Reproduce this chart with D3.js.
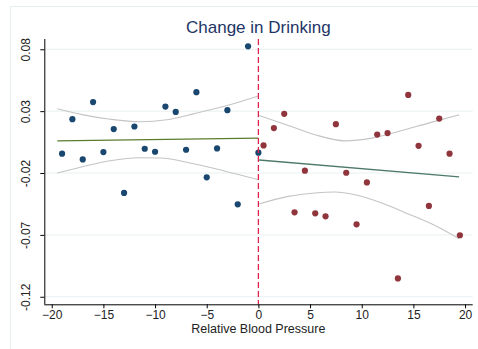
<!DOCTYPE html>
<html><head><meta charset="utf-8">
<script src="https://cdn.jsdelivr.net/npm/d3@7"></script>
<style>body{margin:0;background:#fff}svg{display:block;font-family:"Liberation Sans",Arial,sans-serif}</style>
</head><body><svg id="c" width="478" height="349"></svg>
<script>
const leftX = [-19,-18,-17,-16,-15,-14,-13,-12,-11,-10,-9,-8,-7,-6,-5,-4,-3,-2,-1,0];
const leftY = [-0.0044,0.0235,-0.009,0.0373,-0.0031,0.0155,-0.0361,0.0176,-0.0004,-0.0028,0.0337,0.0294,-0.0012,0.0453,-0.0235,-0.0001,0.0308,-0.0453,0.0824,-0.0036];
const rightX = [0.5,1.5,2.5,3.5,4.5,5.5,6.5,7.5,8.5,9.5,10.5,11.5,12.5,13.5,14.5,15.5,16.5,17.5,18.5,19.5];
const rightY = [0.0023,0.0163,0.0278,-0.0518,-0.0181,-0.0526,-0.055,0.0195,-0.0198,-0.0615,-0.0276,0.0111,0.0123,-0.1052,0.0431,0.002,-0.0466,0.024,-0.0044,-0.0703];
const leftFitX = [-19.46,0];
const leftFitY = [0.006,0.0082];
const rightFitX = [0.07,19.43];
const rightFitY = [-0.0095,-0.0232];
const leftUpX = [-19.46,-16.94,-14.36,-11.45,-8.87,-6.29,-3.39,0];
const leftUpY = [0.0319,0.027,0.0235,0.0214,0.023,0.0278,0.0337,0.0423];
const leftLoX = [-19.46,-16.94,-14.36,-11.45,-9.51,-6.29,-3.39,0];
const leftLoY = [-0.02,-0.0147,-0.0101,-0.0077,-0.0079,-0.0125,-0.0181,-0.0254];
const rightUpX = [0.07,2.9,5.49,8.39,10.98,13.55,16.46,19.43];
const rightUpY = [0.0265,0.0184,0.0109,0.006,0.0082,0.0135,0.0203,0.027];
const rightLoX = [0.07,2.9,5.49,7.42,9.36,11.95,14.52,17.1,19.43];
const rightLoY = [-0.045,-0.0389,-0.0361,-0.0353,-0.0375,-0.0442,-0.0531,-0.0625,-0.0732];
const xTicks = [-20,-15,-10,-5,0,5,10,15,20];
const yTicks = [0.08,0.03,-0.02,-0.07,-0.12];
const yTickLabels = ["0.08","0.03","-0.02","-0.07","-0.12"];

const svg = d3.select("#c");
const x = d3.scaleLinear().domain([-20.72,20.74]).range([44.3,472.7]);
const y = d3.scaleLinear().domain([-0.1261,0.0883]).range([304.3,39]);

svg.append("rect").attr("x",10.5).attr("y",6.5).attr("width",500).attr("height",400)
  .attr("fill","none").attr("stroke","#e6eef0");

// gridlines
svg.append("g").selectAll("line").data(yTicks).join("line")
  .attr("x1",44.3).attr("x2",472.7).attr("y1",d=>y(d)).attr("y2",d=>y(d))
  .attr("stroke","#e8f0f2").attr("stroke-width",1);

const zip = (a,b)=>a.map((v,i)=>[v,b[i]]);
const line = d3.line().x(d=>x(d[0])).y(d=>y(d[1])).curve(d3.curveMonotoneX);
const lin = d3.line().x(d=>x(d[0])).y(d=>y(d[1]));

[[leftUpX,leftUpY],[leftLoX,leftLoY],[rightUpX,rightUpY],[rightLoX,rightLoY]].forEach(([a,b])=>{
  svg.append("path").attr("d",line(zip(a,b))).attr("fill","none").attr("stroke","#c4c4c4").attr("stroke-width",1.1);
});
svg.append("path").attr("d",lin(zip(leftFitX,leftFitY))).attr("fill","none").attr("stroke","#5a7d2c").attr("stroke-width",1.3);
svg.append("path").attr("d",lin(zip(rightFitX,rightFitY))).attr("fill","none").attr("stroke","#4d7a68").attr("stroke-width",1.3);

svg.append("g").selectAll("circle").data(zip(leftX,leftY)).join("circle")
  .attr("cx",d=>x(d[0])).attr("cy",d=>y(d[1])).attr("r",3.1).attr("fill","#1a476f");
svg.append("g").selectAll("circle").data(zip(rightX,rightY)).join("circle")
  .attr("cx",d=>x(d[0])).attr("cy",d=>y(d[1])).attr("r",3.1).attr("fill","#90353b");

// cutoff
svg.append("line").attr("x1",x(0)).attr("x2",x(0)).attr("y1",39).attr("y2",304)
  .attr("stroke","#e0224e").attr("stroke-width",1.3).attr("stroke-dasharray","6,3");

// axes
const xa = svg.append("g").attr("transform","translate(0,304.3)")
  .call(d3.axisBottom(x).tickValues(xTicks).tickSize(4).tickPadding(2).tickFormat(d3.format("d")));
xa.select(".domain").attr("d","M44.3,0.5H472.7").attr("stroke","#000");
xa.selectAll("text").attr("font-size",12).attr("fill","#222").attr("font-family","Liberation Sans, Arial, sans-serif");
const ya = svg.append("g").attr("transform","translate(44.3,0)")
  .call(d3.axisLeft(y).tickValues(yTicks).tickSize(4).tickFormat((d,i)=>yTickLabels[i]));
ya.select(".domain").attr("d","M0.5,39V304.3").attr("stroke","#000");
ya.selectAll("text").attr("font-size",12).attr("fill","#222").attr("font-family","Liberation Sans, Arial, sans-serif")
  .attr("text-anchor","middle").attr("x",0).attr("dy",0)
  .attr("transform","translate(-14,0) rotate(-90)");

svg.append("text").attr("x",258.3).attr("y",333).attr("text-anchor","middle")
  .attr("font-size",12.5).attr("fill","#222").text("Relative Blood Pressure");
svg.append("text").attr("x",258.3).attr("y",32.5).attr("text-anchor","middle")
  .attr("font-size",17).attr("fill","#1e3566").text("Change in Drinking");
</script></body></html>
